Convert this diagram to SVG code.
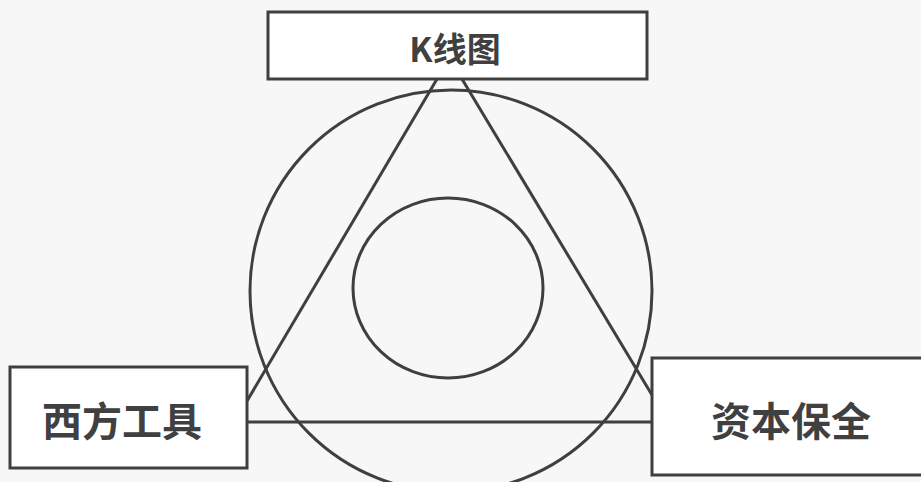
<svg xmlns="http://www.w3.org/2000/svg" width="921" height="482" viewBox="0 0 921 482">
  <style>
    .box { fill: #ffffff; stroke: #3f3f3f; stroke-width: 3; }
    .line { fill: none; stroke: #3f3f3f; stroke-width: 3; }
    .label { font-family: "Noto Sans CJK SC", "Noto Sans", sans-serif; font-weight: bold; fill: #404040; text-anchor: middle; dominant-baseline: central; }
  </style>
  <rect x="0" y="0" width="921" height="482" fill="#f7f7f7"/>
  <g id="rings">
    <circle class="line" cx="451" cy="291" r="201"/>
    <ellipse class="line" cx="448" cy="288" rx="95" ry="90"/>
  </g>
  <g id="connectors">
    <line class="line" x1="437" y1="79" x2="247" y2="401"/>
    <line class="line" x1="462" y1="79" x2="652" y2="395"/>
    <line class="line" x1="247" y1="422" x2="652" y2="422"/>
  </g>
  <g id="node-kline">
    <rect class="box" x="268" y="12" width="379" height="67"/>
    <text class="label" x="455" y="47" font-size="34">K线图</text>
  </g>
  <g id="node-western">
    <rect class="box" x="10" y="367" width="237" height="101"/>
    <text class="label" x="122" y="419" font-size="40">西方工具</text>
  </g>
  <g id="node-capital">
    <rect class="box" x="652" y="358" width="275" height="117"/>
    <text class="label" x="791" y="419" font-size="40">资本保全</text>
  </g>
</svg>
